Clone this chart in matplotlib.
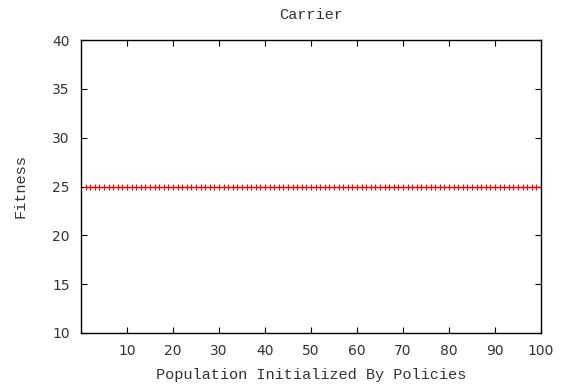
import matplotlib
matplotlib.use("Agg")
import matplotlib.pyplot as plt

# Fitness of the population initialized by policies, generation by generation
generations = list(range(1, 101))
fitness = [25] * 100

x_ticks = [10, 20, 30, 40, 50, 60, 70, 80, 90, 100]
y_ticks = [10, 15, 20, 25, 30, 35, 40]

mono = "Liberation Mono"
text_color = "#333333"

fig = plt.figure(figsize=(5.68, 3.91), dpi=100)
ax = fig.add_axes([81 / 568, 1 - 333 / 391, 460 / 568, 293 / 391])

ax.plot(generations, fitness, color="#ff0000", linewidth=1.0,
        marker="+", markersize=5, markeredgewidth=0.8)

ax.set_xlim(0, 100)
ax.set_ylim(10, 40)
ax.set_xticks(x_ticks)
ax.set_yticks(y_ticks)
ax.tick_params(direction="in", length=4, width=0.8, top=True, right=True,
               labelsize=10, colors="black", labelcolor=text_color, pad=8)
for side in ax.spines.values():
    side.set_linewidth(1.0)

ax.set_title("Carrier", fontfamily=mono, fontsize=11, pad=15, color=text_color)
ax.set_xlabel("Population Initialized By Policies", fontfamily=mono, fontsize=11,
              labelpad=7, color=text_color)
ax.set_ylabel("Fitness", fontfamily=mono, fontsize=11, labelpad=18, color=text_color)

fig.savefig("out.png", dpi=100)
